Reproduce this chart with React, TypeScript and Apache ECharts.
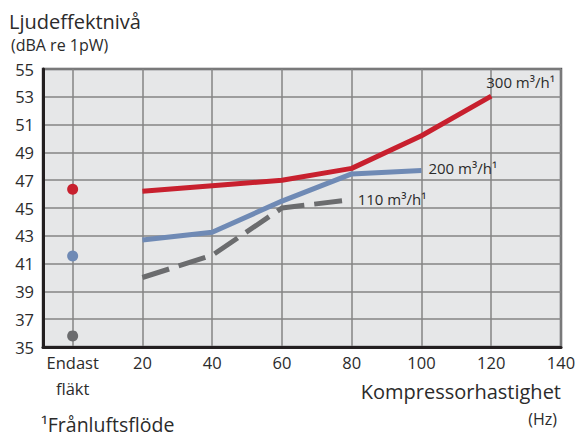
import React, { useEffect, useRef } from "react";
import * as echarts from "echarts";

const xTicks = [0, 20, 40, 60, 80, 100, 120, 140];
const speeds300 = [20, 40, 60, 80, 100, 120];
const flow300 = [46.2, 46.6, 47.0, 47.85, 50.2, 53.05];
const speeds200 = [20, 40, 60, 80, 100];
const flow200 = [42.7, 43.25, 45.5, 47.45, 47.7];
const speeds110 = [20, 40, 60, 80];
const flow110 = [40.0, 41.6, 45.0, 45.6];
const fanOnlyValues = [46.35, 41.55, 35.8];
const seriesNames = ["300 m³/h¹", "200 m³/h¹", "110 m³/h¹"];
const FONT = "'Open Sans', 'Noto Sans', sans-serif";
const RED = "#c8202e";
const BLUE = "#6f8ab5";
const GRAY = "#6b6c6e";
const TXT = "#2b2b2b";

export default function App() {
  const ref = useRef<HTMLDivElement>(null);
  useEffect(() => {
    document.body.style.margin = "0";
    const chart = echarts.init(ref.current!, undefined, { renderer: "svg" });
    const pairs = (xs: number[], ys: number[]) => xs.map((x, i) => [x, ys[i]]);
    const fanColors = [RED, BLUE, GRAY];
    const endLabel = (text: string, offset: number[]) => ({
      show: true,
      formatter: text,
      fontSize: 15,
      color: TXT,
      fontFamily: FONT,
      distance: 0,
      offset,
    });
    chart.setOption({
      animation: false,
      grid: {
        left: 43,
        right: 16,
        top: 69,
        bottom: 89,
        show: true,
        backgroundColor: "#e6e7e8",
        borderColor: "#58595b",
        borderWidth: 2.5,
        outerBoundsMode: "none",
      },
      xAxis: {
        type: "value",
        min: -8.5,
        max: 140,
        axisLine: { show: true, onZero: false, lineStyle: { color: "#231f20", width: 3 } },
        axisTick: { show: false, customValues: xTicks },
        axisLabel: {
          customValues: xTicks,
          showMinLabel: true,
          showMaxLabel: true,
          margin: 2,
          fontSize: 16.5,
          lineHeight: 26,
          color: TXT,
          fontFamily: FONT,
          formatter: (v: number) => (v === 0 ? "Endast\nfläkt" : String(v)),
        },
        splitLine: { show: true, lineStyle: { color: "#858585", width: 1.5 } },
      },
      yAxis: {
        type: "value",
        min: 35,
        max: 55,
        interval: 2,
        axisLine: { show: true, onZero: false, lineStyle: { color: "#231f20", width: 3 } },
        axisTick: { show: false },
        axisLabel: { margin: 9, fontSize: 16.5, color: TXT, fontFamily: FONT },
        splitLine: { show: true, lineStyle: { color: "#858585", width: 1.5 } },
      },
      series: [
        {
          name: seriesNames[2],
          type: "line",
          data: pairs(speeds110, flow110),
          symbol: "none",
          lineStyle: { color: GRAY, width: 5, type: [28, 10] },
          endLabel: endLabel(seriesNames[2], [6, -1]),
        },
        {
          name: seriesNames[1],
          type: "line",
          data: pairs(speeds200, flow200),
          symbol: "none",
          lineStyle: { color: BLUE, width: 5 },
          endLabel: endLabel(seriesNames[1], [7, -2]),
        },
        {
          name: seriesNames[0],
          type: "line",
          data: pairs(speeds300, flow300),
          symbol: "none",
          lineStyle: { color: RED, width: 5 },
          endLabel: endLabel(seriesNames[0], [-5, -14]),
        },
        {
          type: "scatter",
          symbolSize: 11,
          data: fanOnlyValues.map((v, i) => ({
            value: [0, v],
            itemStyle: { color: fanColors[i], opacity: 1 },
          })),
        },
      ],
      graphic: [
        {
          type: "text",
          x: 9,
          y: 21,
          style: { text: "Ljudeffektnivå", fontSize: 20, fill: TXT, fontFamily: FONT, verticalAlign: "middle" },
        },
        {
          type: "text",
          x: 11,
          y: 45,
          style: { text: "(dBA re 1pW)", fontSize: 16, fill: TXT, fontFamily: FONT, verticalAlign: "middle" },
        },
        {
          type: "text",
          x: 561,
          y: 391,
          style: { text: "Kompressorhastighet", fontSize: 20, fill: TXT, fontFamily: FONT, align: "right", verticalAlign: "middle" },
        },
        {
          type: "text",
          x: 557,
          y: 419,
          style: { text: "(Hz)", fontSize: 16, fill: TXT, fontFamily: FONT, align: "right", verticalAlign: "middle" },
        },
        {
          type: "text",
          x: 41,
          y: 424,
          style: { text: "¹Frånluftsflöde", fontSize: 19.5, fill: TXT, fontFamily: FONT, verticalAlign: "middle" },
        },
      ],
    });
    return () => chart.dispose();
  }, []);
  return <div ref={ref} style={{ width: 577, height: 436 }} />;
}
